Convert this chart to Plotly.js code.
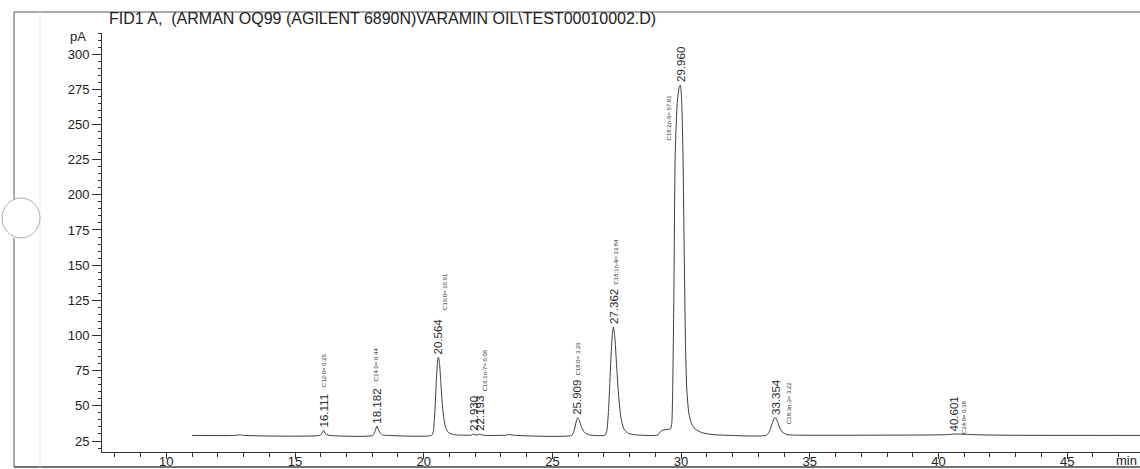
<!DOCTYPE html>
<html>
<head>
<meta charset="utf-8">
<script src="https://cdn.plot.ly/plotly-3.0.1.min.js"></script>
<style>html,body{margin:0;padding:0;background:#fff;}#chart{width:1140px;height:469px;}</style>
</head>
<body>
<div id="chart"></div>
<script>
// ---- data (time in min, signal in pA) ----
const traceTime = [11.0, 12.7, 12.85, 13.0, 15.95, 16.04, 16.11, 16.19, 16.32, 18.02, 18.1, 18.18, 18.26, 18.4, 18.6,
  20.30, 20.37, 20.43, 20.49, 20.54, 20.57, 20.61, 20.66, 20.72, 20.79, 20.87, 20.98, 21.15, 21.4,
  21.85, 21.93, 22.05, 22.19, 22.32, 23.15, 23.3, 23.5,
  25.75, 25.83, 25.92, 25.98, 26.04, 26.13, 26.25, 26.45,
  27.05, 27.12, 27.19, 27.27, 27.33, 27.37, 27.42, 27.49, 27.57, 27.66, 27.78, 27.95, 28.3,
  29.1, 29.2, 29.3, 29.5, 29.6, 29.64, 29.68, 29.72, 29.77, 29.85, 29.93, 29.97, 30.02, 30.07, 30.12, 30.17, 30.22, 30.3, 30.4, 30.55, 30.8, 31.2, 31.6,
  33.32, 33.42, 33.53, 33.62, 33.66, 33.72, 33.82, 33.93, 34.1, 34.4,
  39.5, 40.3, 40.64, 41.0, 41.6, 42.8, 47.83];
const tracePA = [29.0, 29.0, 29.5, 29.0, 29.0, 30.2, 32.6, 30.2, 29.1, 29.0, 31.5, 35.5, 32.0, 29.3, 29.0,
  29.0, 31.5, 45, 68, 82, 84.7, 81, 68, 52, 40, 33.5, 30.8, 29.6, 29.2,
  29.2, 29.9, 29.3, 29.8, 29.1, 29.1, 29.6, 29.1,
  29.0, 31.5, 38.5, 41.6, 40.0, 35.0, 31.0, 29.3,
  29.2, 33, 50, 82, 101, 106, 100, 80, 58, 42, 33.5, 30.5, 29.3,
  29.3, 31.8, 32.8, 33.3, 34.0, 38, 70, 130, 228, 265, 277, 278, 268, 232, 160, 95, 62, 45, 37.5, 33.5, 31, 29.6, 29.2,
  29.1, 31.5, 37, 41.3, 41.6, 40, 35, 31.5, 29.6, 29.2,
  29.3, 29.5, 30.0, 29.8, 29.4, 29.1, 29.0];

// peak labels: printed retention times, apex positions as drawn, compound labels
const peakLabels = ["16.111", "18.182", "20.564", "21.930", "22.193", "25.909", "27.362", "29.960", "33.354", "40.601"];
const peakTimes  = [16.11, 18.18, 20.57, 21.93, 22.19, 25.98, 27.37, 29.97, 33.66, 40.64];
const peakPA     = [32.6, 35.5, 84.7, 29.9, 29.8, 41.6, 106, 278, 41.6, 30.0];
const compoundLabels = ["C12:0= 0.26", "C14:0= 0.44", "C16:0= 10.61", "", "C16:1n-7= 0.06", "C18:0= 3.26",
  "C18:1n-9= 13.84", "C18:2n-6= 67.81", "C18:3n-3= 3.22", "C24:0= 0.38"];

const xTickVals = [10, 15, 20, 25, 30, 35, 40, 45];
const yTickVals = [25, 50, 75, 100, 125, 150, 175, 200, 225, 250, 275, 300];
const titleText = "FID1 A,\u00a0 (ARMAN OQ99 (AGILENT 6890N)VARAMIN OIL\\TEST00010002.D)";

// ---- presentation ----
// compound label placement relative to apex: [xshift px, yshift px, yanchor]
const compoundPlace = [[1, 41, 'bottom'], [-1, 43, 'bottom'], [6, 45, 'bottom'], [0, 0, 'bottom'], [5, 41, 'bottom'],
  [0, 40, 'bottom'], [3, 41, 'bottom'], [-11, -7, 'top'], [13, 38, 'top'], [9, 36, 'top']];

const SANS = "Liberation Sans, Arial, sans-serif";
const INK = "#333333";

const annotations = [];
peakLabels.forEach((lab, i) => {
  annotations.push({
    x: peakTimes[i], y: peakPA[i], xref: 'x', yref: 'y', text: lab, showarrow: false,
    textangle: -90, xanchor: 'center', yanchor: 'bottom', yshift: 1,
    font: {family: SANS, size: 11.5, color: '#2a2a2a'}
  });
  if (compoundLabels[i]) {
    const p = compoundPlace[i];
    annotations.push({
      x: peakTimes[i], y: peakPA[i], xref: 'x', yref: 'y', text: compoundLabels[i], showarrow: false,
      textangle: -90, xanchor: 'center', yanchor: p[2], xshift: p[0], yshift: p[1],
      font: {family: SANS, size: 6, color: '#2a2a2a'}
    });
  }
});
// page texts
const W = 1038, H = 419, L = 102, T = 33;
const px = v => (v - L) / W;
const py = v => (T + H - v) / H;
annotations.push({xref: 'paper', yref: 'paper', x: px(107), y: py(18), xanchor: 'left', yanchor: 'middle',
  text: titleText, showarrow: false, font: {family: SANS, size: 16, color: '#222'}});
annotations.push({xref: 'paper', yref: 'paper', x: px(88), y: py(37), xanchor: 'right', yanchor: 'middle',
  text: 'pA', showarrow: false, font: {family: SANS, size: 13, color: '#222'}});
annotations.push({xref: 'paper', yref: 'paper', x: px(1114), y: py(460), xanchor: 'left', yanchor: 'middle',
  text: 'min', showarrow: false, font: {family: SANS, size: 13, color: '#222'}});

const shapes = [
  {type: 'line', xref: 'paper', yref: 'paper', x0: px(14), x1: 1, y0: py(12), y1: py(12), line: {color: '#555', width: 1}},
  {type: 'line', xref: 'paper', yref: 'paper', x0: px(14), x1: px(14), y0: py(12), y1: py(200), line: {color: '#555', width: 1}},
  {type: 'line', xref: 'paper', yref: 'paper', x0: px(14), x1: px(14), y0: py(238), y1: py(467), line: {color: '#555', width: 1}},
  {type: 'line', xref: 'paper', yref: 'paper', x0: px(14), x1: 1, y0: py(467), y1: py(467), line: {color: '#444', width: 1.5}},
  {type: 'line', xref: 'paper', yref: 'paper', x0: px(40), x1: px(40), y0: py(12), y1: py(467), line: {color: '#ececec', width: 1}},
  {type: 'circle', xref: 'paper', yref: 'paper', x0: px(2), x1: px(40), y0: py(198), y1: py(238), fillcolor: '#ffffff', line: {color: '#aaaaaa', width: 1}}
];

const data = [{
  x: traceTime, y: tracePA, type: 'scatter', mode: 'lines',
  line: {color: '#3c3c3c', width: 1, shape: 'spline', smoothing: 0.6},
  hoverinfo: 'skip'
}];

const layout = {
  width: 1140, height: 469,
  margin: {l: L, r: 0, t: T, b: 469 - T - H, pad: 0},
  paper_bgcolor: '#ffffff', plot_bgcolor: '#ffffff',
  showlegend: false,
  xaxis: {
    range: [7.5, 47.83], tickmode: 'array', tickvals: xTickVals, ticktext: xTickVals.map(String),
    showline: true, linecolor: INK, linewidth: 1, showgrid: false, zeroline: false,
    ticks: 'outside', ticklen: 6, tickcolor: INK, tickwidth: 1, ticklabelstandoff: -9,
    minor: {dtick: 1, tick0: 0, ticks: 'outside', ticklen: 4, tickcolor: INK, showgrid: false},
    tickfont: {family: SANS, size: 13, color: '#222'}, fixedrange: true
  },
  yaxis: {
    range: [17.2, 315], tickmode: 'array', tickvals: yTickVals, ticktext: yTickVals.map(String),
    showline: true, linecolor: INK, linewidth: 1, showgrid: false, zeroline: false,
    ticks: 'outside', ticklen: 9, tickcolor: INK, tickwidth: 1,
    minor: {dtick: 5, tick0: 0, ticks: 'outside', ticklen: 3, tickcolor: INK, showgrid: false},
    tickfont: {family: SANS, size: 13, color: '#222'}, fixedrange: true
  },
  annotations: annotations,
  shapes: shapes
};

Plotly.newPlot('chart', data, layout, {staticPlot: true, displayModeBar: false});
</script>
</body>
</html>
